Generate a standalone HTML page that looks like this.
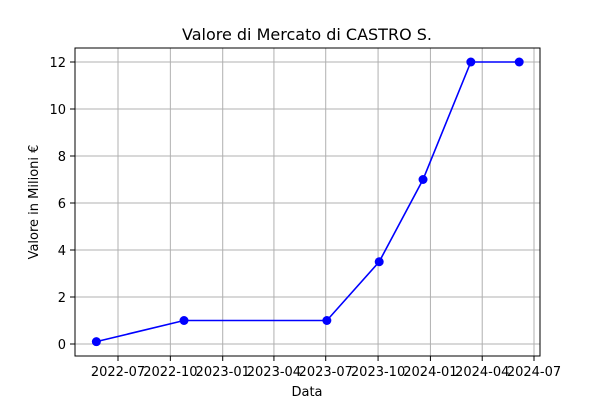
<!DOCTYPE html>
<html><head><meta charset="utf-8"><style>
body{margin:0;background:#fff;}
svg text{font-family:"DejaVu Sans","Liberation Sans",sans-serif;}
</style></head><body>
<svg id="chart" width="600" height="400" xmlns="http://www.w3.org/2000/svg">
<rect width="600" height="400" fill="#fff"/>
<text x="307" y="40" text-anchor="middle" font-size="16">Valore di Mercato di CASTRO S.</text>
<text x="307" y="396" text-anchor="middle" font-size="13">Data</text>
<text transform="translate(38,202) rotate(-90)" text-anchor="middle" font-size="13">Valore in Milioni €</text>
<g id="grid"></g><g id="axes"></g><g id="series"></g>
<rect x="75" y="48" width="465" height="308" fill="none" stroke="#000" stroke-width="1"/>
</svg>
<script>
const dates = ["2022-05-24","2022-10-25","2023-07-03","2023-10-03","2023-12-19","2024-03-12","2024-06-05"];
const values = [0.1,1,1,3.5,7,12,12];
const xTicks = ["2022-07","2022-10","2023-01","2023-04","2023-07","2023-10","2024-01","2024-04","2024-07"];
const yTicks = [0,2,4,6,8,10,12];
const NS="http://www.w3.org/2000/svg";
const d0=Date.parse("2022-07-01"), d1=Date.parse("2024-07-01");
function xs(s){const t=Date.parse(s.length===7?s+"-01":s);return 118+(t-d0)/(d1-d0)*416;}
function ys(v){return 344-v*23.5;}
function mk(tag,attrs,parent){const e=document.createElementNS(NS,tag);for(const k in attrs)e.setAttribute(k,attrs[k]);parent.appendChild(e);return e;}
const grid=document.getElementById('grid'),axes=document.getElementById('axes'),ser=document.getElementById('series');
xTicks.forEach(t=>{const x=xs(t);
 const g=mk('line',{x1:x,x2:x,y1:48,y2:356,stroke:'#b0b0b0','stroke-width':1},grid);
 
 const tk=mk('line',{x1:x,x2:x,y1:356,y2:361,stroke:'#000'},axes);
 
 const tx=mk('text',{x:x,y:376,'text-anchor':'middle','font-size':13},axes);tx.textContent=t;
 });
yTicks.forEach(v=>{const y=ys(v);
 const g=mk('line',{x1:75,x2:540,y1:y,y2:y,stroke:'#b0b0b0','stroke-width':1},grid);
 
 const tk=mk('line',{x1:70,x2:75,y1:y,y2:y,stroke:'#000'},axes);
 
 const tx=mk('text',{x:66,y:y+5,'text-anchor':'end','font-size':13},axes);tx.textContent=v;
 });
const pts=dates.map((d,i)=>xs(d)+','+ys(values[i])).join(' ');
const pl=mk('polyline',{points:pts,fill:'none',stroke:'#0000ff','stroke-width':1.6},ser);

dates.forEach((d,i)=>{const c=mk('circle',{cx:xs(d),cy:ys(values[i]),r:4.5,fill:'#0000ff'},ser);
 });
</script>
</body></html>
